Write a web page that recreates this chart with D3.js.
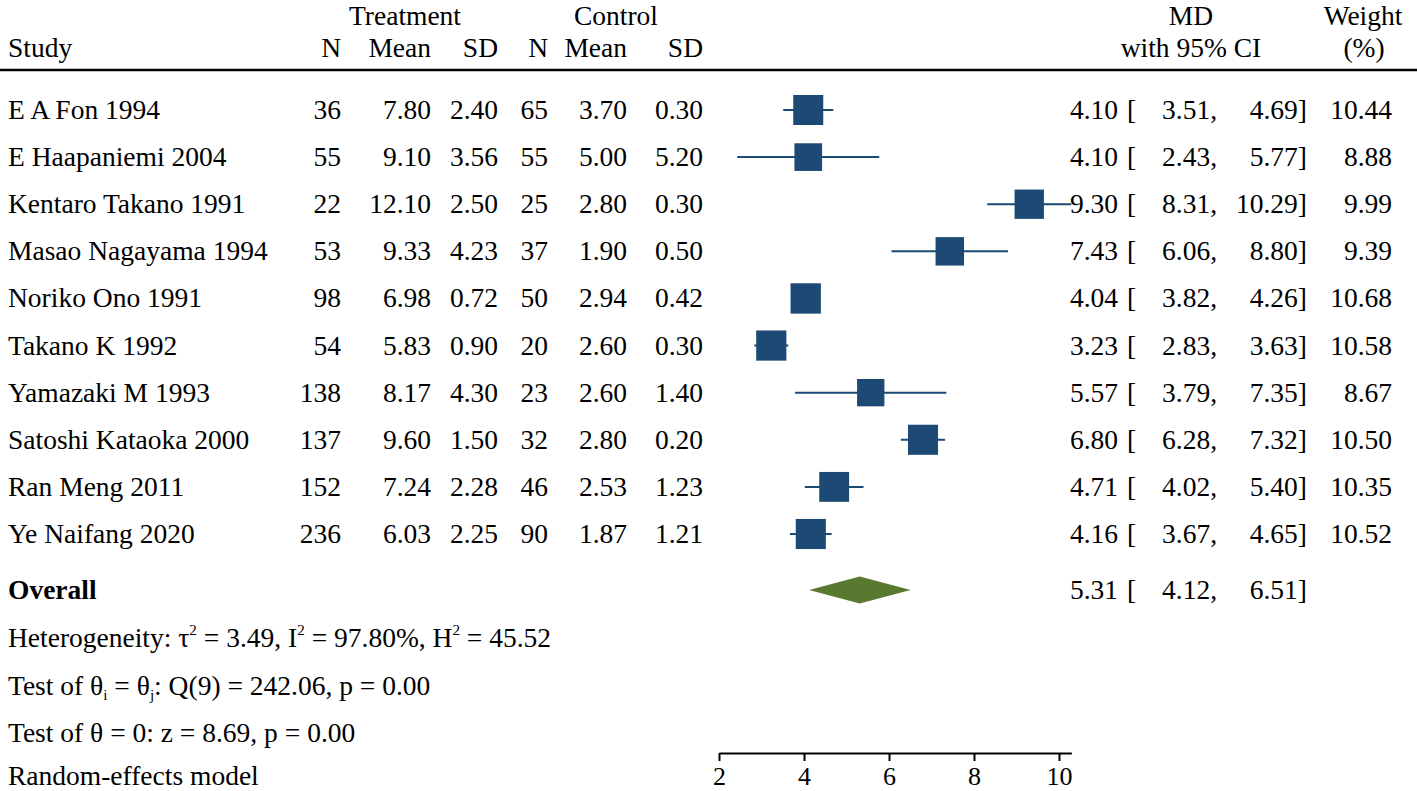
<!DOCTYPE html>
<html>
<head>
<meta charset="utf-8">
<script src="https://cdn.jsdelivr.net/npm/d3@7"></script>
<style>
  html, body { margin: 0; padding: 0; background: #fff; }
  svg text { font-family: "Liberation Serif", "Times New Roman", serif; fill: #000; }
</style>
</head>
<body>
<svg id="chart" width="1417" height="791"></svg>
<script>
const studies = ["E A Fon 1994", "E Haapaniemi 2004", "Kentaro Takano 1991", "Masao Nagayama 1994", "Noriko Ono 1991", "Takano K 1992", "Yamazaki M 1993", "Satoshi Kataoka 2000", "Ran Meng 2011", "Ye Naifang 2020"];
const treatN = [36, 55, 22, 53, 98, 54, 138, 137, 152, 236];
const treatMean = [7.80, 9.10, 12.10, 9.33, 6.98, 5.83, 8.17, 9.60, 7.24, 6.03];
const treatSD = [2.40, 3.56, 2.50, 4.23, 0.72, 0.90, 4.30, 1.50, 2.28, 2.25];
const ctrlN = [65, 55, 25, 37, 50, 20, 23, 32, 46, 90];
const ctrlMean = [3.70, 5.00, 2.80, 1.90, 2.94, 2.60, 2.60, 2.80, 2.53, 1.87];
const ctrlSD = [0.30, 5.20, 0.30, 0.50, 0.42, 0.30, 1.40, 0.20, 1.23, 1.21];
const md = [4.10, 4.10, 9.30, 7.43, 4.04, 3.23, 5.57, 6.80, 4.71, 4.16];
const ciLow = [3.51, 2.43, 8.31, 6.06, 3.82, 2.83, 3.79, 6.28, 4.02, 3.67];
const ciHigh = [4.69, 5.77, 10.29, 8.80, 4.26, 3.63, 7.35, 7.32, 5.40, 4.65];
const weight = [10.44, 8.88, 9.99, 9.39, 10.68, 10.58, 8.67, 10.50, 10.35, 10.52];
const overall = [5.31, 4.12, 6.51];
const axisTicks = [2, 4, 6, 8, 10];

const FS = 27.5;
const BLUE = "#1d4a74";
const GREEN = "#587a30";
const svg = d3.select("#chart");

const x = d3.scaleLinear().domain([2, d3.max(ciHigh)]).range([719, 719 + (d3.max(ciHigh) - 2) * 42.5]);
const y = d3.scaleLinear().domain([0, studies.length - 1]).range([110, 534]);
const side = d3.scaleSqrt().domain([0, 10.44]).range([0, 30]);
const f2 = d3.format(".2f");
const BL = 9; // baseline offset from row center

function txt(xp, yp, s, anchor, weightStr) {
  return svg.append("text").attr("x", xp).attr("y", yp)
    .attr("font-size", FS).attr("text-anchor", anchor || "start")
    .attr("font-weight", weightStr || "normal").text(s);
}

// Header
txt(405, 25, "Treatment", "middle");
txt(616, 25, "Control", "middle");
txt(1191, 25, "MD", "middle");
txt(1363, 25, "Weight", "middle");
txt(8, 57, "Study");
[[341, "N"], [431, "Mean"], [498, "SD"], [548, "N"], [627, "Mean"], [703, "SD"]].forEach(d => txt(d[0], 57, d[1], "end"));
txt(1191, 57, "with 95% CI", "middle");
txt(1364, 57, "(%)", "middle");
svg.append("line").attr("x1", 0).attr("x2", 1417).attr("y1", 70).attr("y2", 70)
  .attr("stroke", "#000").attr("stroke-width", 2.5);

// Study rows
const rows = svg.append("g").selectAll("g").data(studies).join("g");
rows.each(function(s, i) {
  const g = d3.select(this);
  const yc = y(i);
  const cols = [
    [8, s, "start"],
    [341, treatN[i], "end"],
    [431, f2(treatMean[i]), "end"],
    [498, f2(treatSD[i]), "end"],
    [548, ctrlN[i], "end"],
    [627, f2(ctrlMean[i]), "end"],
    [703, f2(ctrlSD[i]), "end"],
    [1118, f2(md[i]), "end"],
    [1127, "[", "start"],
    [1217, f2(ciLow[i]) + ",", "end"],
    [1307, f2(ciHigh[i]) + "]", "end"],
    [1392, f2(weight[i]), "end"]
  ];
  cols.forEach(c => g.append("text").attr("x", c[0]).attr("y", yc + BL)
    .attr("font-size", FS).attr("text-anchor", c[2]).text(c[1]));
  g.append("line").attr("x1", x(ciLow[i])).attr("x2", x(ciHigh[i]))
    .attr("y1", yc).attr("y2", yc).attr("stroke", BLUE).attr("stroke-width", 2);
  const sd = side(weight[i]);
  g.append("rect").attr("x", x(md[i]) - sd / 2).attr("y", yc - sd / 2)
    .attr("width", sd).attr("height", sd).attr("fill", BLUE);
});

// Overall
const yo = 590;
txt(8, yo + BL, "Overall", "start", "bold");
txt(1118, yo + BL, f2(overall[0]), "end");
txt(1127, yo + BL, "[");
txt(1217, yo + BL, f2(overall[1]) + ",", "end");
txt(1307, yo + BL, f2(overall[2]) + "]", "end");
const dh = 13.5;
svg.append("path")
  .attr("d", `M${x(overall[1])},${yo} L${x(overall[0])},${yo - dh} L${x(overall[2])},${yo} L${x(overall[0])},${yo + dh} Z`)
  .attr("fill", GREEN);

// Stats text
function build(yp, parts) {
  const t = svg.append("text").attr("x", 8).attr("y", yp).attr("font-size", FS);
  let shift = 0;
  parts.forEach(p => {
    if (typeof p === "string") {
      t.append("tspan").attr("dy", -shift).text(p); shift = 0;
    } else if (p.sup) {
      t.append("tspan").attr("font-size", FS * 0.55).attr("dy", -12 - shift).text(p.sup); shift = -12;
    } else if (p.sub) {
      t.append("tspan").attr("font-size", FS * 0.55).attr("dy", 5 - shift).text(p.sub); shift = 5;
    }
  });
}
build(647, ["Heterogeneity: τ", {sup: "2"}, " = 3.49, I", {sup: "2"}, " = 97.80%, H", {sup: "2"}, " = 45.52"]);
build(695, ["Test of θ", {sub: "i"}, " = θ", {sub: "j"}, ": Q(9) = 242.06, p = 0.00"]);
build(742, ["Test of θ = 0: z = 8.69, p = 0.00"]);
build(785, ["Random-effects model"]);

// Axis
const axis = d3.axisBottom(x).tickValues(axisTicks).tickSize(8).tickSizeOuter(0);
const ag = svg.append("g").attr("transform", "translate(0,753)").call(axis);
ag.select(".domain").attr("stroke", "#000").attr("stroke-width", 2);
ag.selectAll(".tick line").attr("stroke", "#000").attr("stroke-width", 2);
ag.selectAll(".tick text").attr("font-size", 26).attr("font-family", "Liberation Serif, serif")
  .attr("fill", "#000").attr("y", 32).attr("dy", 0);
</script>
</body>
</html>
